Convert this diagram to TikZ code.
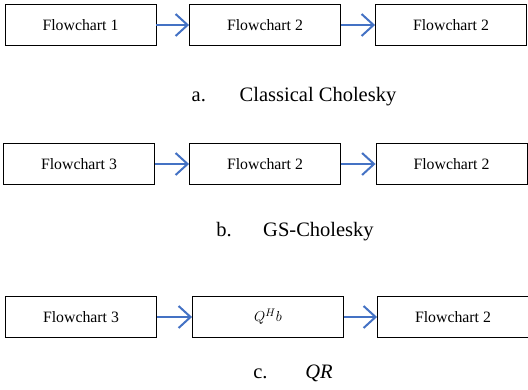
\documentclass[tikz,border=0pt]{standalone}
\usepackage{fontspec}
\setmainfont{Liberation Serif}
\usepackage{xcolor}
\usepackage{tikz}
\usetikzlibrary{arrows.meta}

\definecolor{wordblue}{RGB}{68,114,196}

\begin{document}
\begin{tikzpicture}[x=1pt, y=-1pt,
	flowbox/.style={draw=black, line width=0.9pt, minimum width=151pt, minimum height=41pt, inner sep=0pt, font=\fontsize{15.8}{19}\selectfont},
	flowarrow/.style={draw=wordblue, line width=2pt, -{Straight Barb[length=12pt, width=22pt]}},
	caption/.style={font=\fontsize{20.5}{24}\selectfont, inner sep=0pt}]

	\useasboundingbox (0,0) rectangle (528,389);

	% a. classical cholesky
	\def \r {25}
	\node[flowbox] (a1) at (80.5,\r) {Flowchart 1};
	\node[flowbox] (a2) at (265,\r) {Flowchart 2};
	\node[flowbox] (a3) at (451,\r) {Flowchart 2};
	\draw[flowarrow] (a1) -- (a2);
	\draw[flowarrow] (a2) -- (a3);
	\node[caption] (capa) at (294,97) {\makebox[48pt][l]{a.}Classical Cholesky};

	% b. GS-cholesky
	\def \r {164}
	\node[flowbox] (b1) at (79,\r) {Flowchart 3};
	\node[flowbox] (b2) at (265,\r) {Flowchart 2};
	\node[flowbox] (b3) at (451.5,\r) {Flowchart 2};
	\draw[flowarrow] (b1) -- (b2);
	\draw[flowarrow] (b2) -- (b3);
	\node[caption] (capb) at (295,232) {\makebox[47pt][l]{b.}GS-Cholesky};

	% c. QR
	\def \r {317}
	\node[flowbox] (c1) at (81,\r) {Flowchart 3};
	\node[flowbox] (c2) at (268,\r) {$Q^{H}b$};
	\node[flowbox] (c3) at (453,\r) {Flowchart 2};
	\draw[flowarrow] (c1) -- (c2);
	\draw[flowarrow] (c2) -- (c3);
	\node[caption] (capc) at (293,373) {\makebox[52pt][l]{c.}\textit{QR}};

\end{tikzpicture}
\end{document}
